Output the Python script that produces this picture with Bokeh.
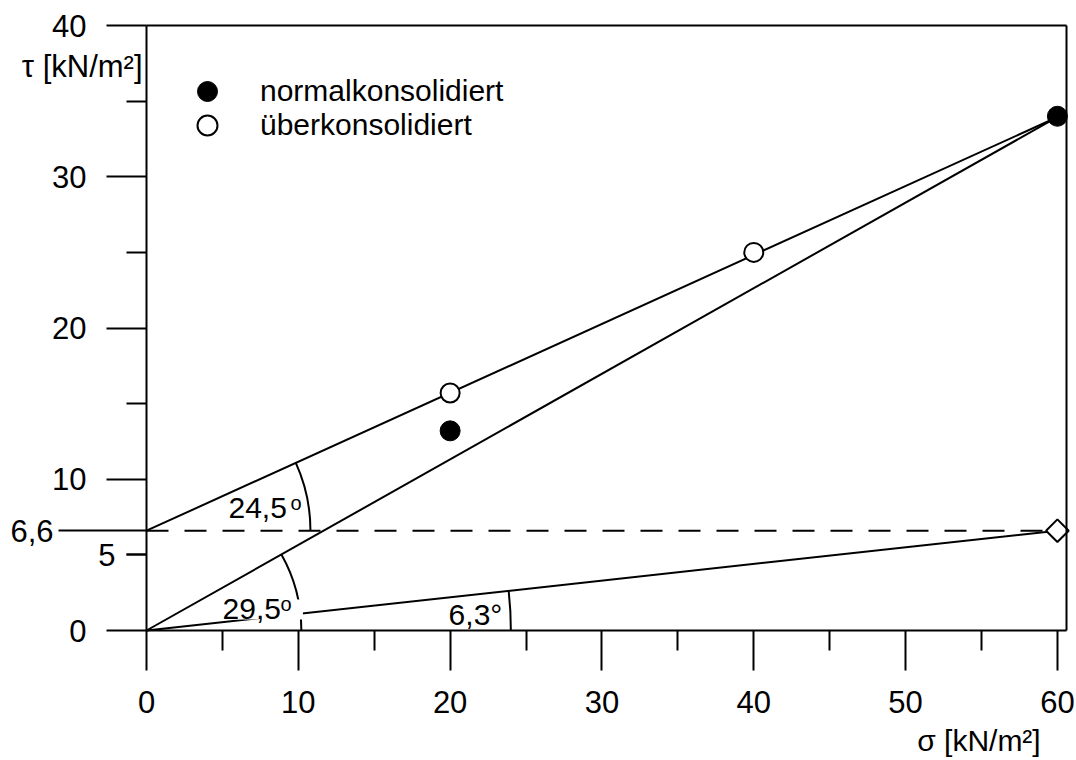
import math

from bokeh.embed import file_html
from bokeh.models import FixedTicker, Label, Legend, LegendItem, LinearAxis, Range1d
from bokeh.plotting import figure
from bokeh.resources import INLINE

# Scherversuch: Normalspannung sigma und Scherspannung tau in kN/m²
sigma_nc = [20, 60]
tau_nc = [13.2, 34.0]
sigma_oc = [20, 40]
tau_oc = [15.7, 25.0]

# Schergeraden
phi_nc = 29.5        # normalkonsolidiert, durch den Ursprung
phi_oc = 24.5        # überkonsolidiert
c_oc = 6.6           # Kohäsion überkonsolidiert
sigma_c = 60         # Punkt (sigma_c, c_oc) der flachen Geraden
phi_c = 6.3

x_ticks = [0, 10, 20, 30, 40, 50, 60]
x_minor = [5, 15, 25, 35, 45, 55]
y_ticks = [0, 10, 20, 30, 40]
y_minor = [5, 15, 25, 35]

FONT = "Liberation Sans"
X_MAX = 60.6
Y_MAX = 40

# Diagrammfläche: Ursprung bei (146, 630) px, 15.18 px bzw. 15.125 px je Einheit
W, H = 1076, 760
ORIGIN_X, ORIGIN_Y = 146, 630
KX = 920 / X_MAX
KY = 605 / Y_MAX
x0 = -ORIGIN_X / KX
y0 = -(H - ORIGIN_Y) / KY

p = figure(
    width=W, height=H,
    x_range=Range1d(x0, x0 + W / KX), y_range=Range1d(y0, y0 + H / KY),
    output_backend="svg", toolbar_location=None,
    x_axis_location=None, y_axis_location=None, min_border=0,
)
p.grid.visible = False
p.outline_line_color = None
p.background_fill_color = "white"
p.border_fill_color = "white"


def axis(side, loc, ticks, minor, bounds, tick_out=40, minor_out=20,
         standoff=20, overrides=None, line=True, labels=True):
    ax = LinearAxis(fixed_location=loc, bounds=bounds,
                    ticker=FixedTicker(ticks=ticks, minor_ticks=minor))
    ax.axis_line_width = 2
    ax.axis_line_color = "black" if line else None
    ax.major_tick_line_width = 2
    ax.minor_tick_line_width = 2
    ax.major_tick_line_color = "black"
    ax.minor_tick_line_color = "black"
    ax.major_tick_in = 0
    ax.minor_tick_in = 0
    ax.major_tick_out = tick_out
    ax.minor_tick_out = minor_out
    ax.major_label_standoff = standoff
    ax.major_label_text_font = FONT
    ax.major_label_text_font_size = "31px" if labels else "0px"
    ax.major_label_text_color = "black"
    if overrides:
        ax.major_label_overrides = overrides
    p.add_layout(ax, side)
    return ax


# Achsen und Rahmen
axis("below", 0, x_ticks, x_minor, (0, X_MAX))
axis("left", 0, y_ticks, y_minor, (0, Y_MAX))
axis("left", 0, [5], [], (0, Y_MAX), tick_out=20, standoff=11, line=False)
axis("left", 0, [c_oc], [], (0, Y_MAX), tick_out=88, standoff=5, line=False,
     overrides={c_oc: str(c_oc).replace(".", ",")})
axis("above", Y_MAX, [], [], (0, X_MAX), labels=False)
axis("right", X_MAX, [], [], (0, Y_MAX), labels=False)

# Geraden
x_line = [0, X_MAX]
t_nc = math.tan(math.radians(phi_nc))
t_oc = math.tan(math.radians(phi_oc))
p.line(x_line, [x * t_nc for x in x_line], line_color="black", line_width=2)
p.line(x_line, [c_oc + x * t_oc for x in x_line], line_color="black", line_width=2)
p.line([0, sigma_c], [0, c_oc], line_color="black", line_width=2)
p.line([0, sigma_c], [c_oc, c_oc], line_color="black", line_width=2, line_dash="22 16")

# Winkelbögen
p.arc(x=[0], y=[c_oc], radius=10.8, start_angle=0, end_angle=math.radians(phi_oc),
      line_color="black", line_width=2)
p.arc(x=[0], y=[0], radius=10.2, start_angle=0, end_angle=math.radians(phi_nc),
      line_color="black", line_width=2)
p.arc(x=[0], y=[0], radius=24.0, start_angle=0, end_angle=math.radians(phi_c),
      line_color="black", line_width=2)

# Messpunkte
r_oc = p.scatter(sigma_oc, tau_oc, marker="circle", size=19, fill_color="white",
                 line_color="black", line_width=2)
r_nc = p.scatter(sigma_nc, tau_nc, marker="circle", size=20, fill_color="black",
                 line_color="black", line_width=1)
p.scatter([sigma_c], [c_oc], marker="square", angle=math.pi / 4, size=16,
          fill_color="white", line_color="black", line_width=2)


def label(text, x, y, size="30px", align="left", baseline="alphabetic", **kw):
    lab = Label(x=x, y=y, text=text, text_font=FONT, text_font_size=size,
                text_color="black", text_align=align, text_baseline=baseline, **kw)
    p.add_layout(lab)
    return lab


# Achsbeschriftungen
label("τ [kN/m²]", -0.26, 37.3, size="31px", align="right", baseline="middle")
label("σ [kN/m²]", 58.9, -7.25, size="30px", align="right", baseline="middle")

# Winkelangaben
label(f"{phi_oc}".replace(".", ","), 5.4, 8.07)
label("o", 9.49, 8.46, size="20px")
label(f"{phi_nc}".replace(".", ","), 4.68, 1.39,
      background_fill_color="white",
      padding=dict(left=5, right=22, top=0, bottom=0))
label("o", 8.83, 1.78, size="20px")
label(f"{phi_c}".replace(".", ",") + "°", 19.9, 1.06)

# Legende: je Eintrag eine eigene Legende, damit die Symbole groß bleiben
for item, top in ((LegendItem(label="normalkonsolidiert", renderers=[r_nc]), 66),
                  (LegendItem(label="überkonsolidiert", renderers=[r_oc]), 100)):
    p.add_layout(Legend(
        items=[item], location=(182, H - top - 50),
        glyph_width=50, glyph_height=50, label_standoff=28,
        padding=0, margin=0, border_line_color=None, background_fill_alpha=0,
        label_text_font=FONT, label_text_font_size="30px", label_text_color="black",
    ))

open("out.html", "w").write(file_html(p, INLINE))
